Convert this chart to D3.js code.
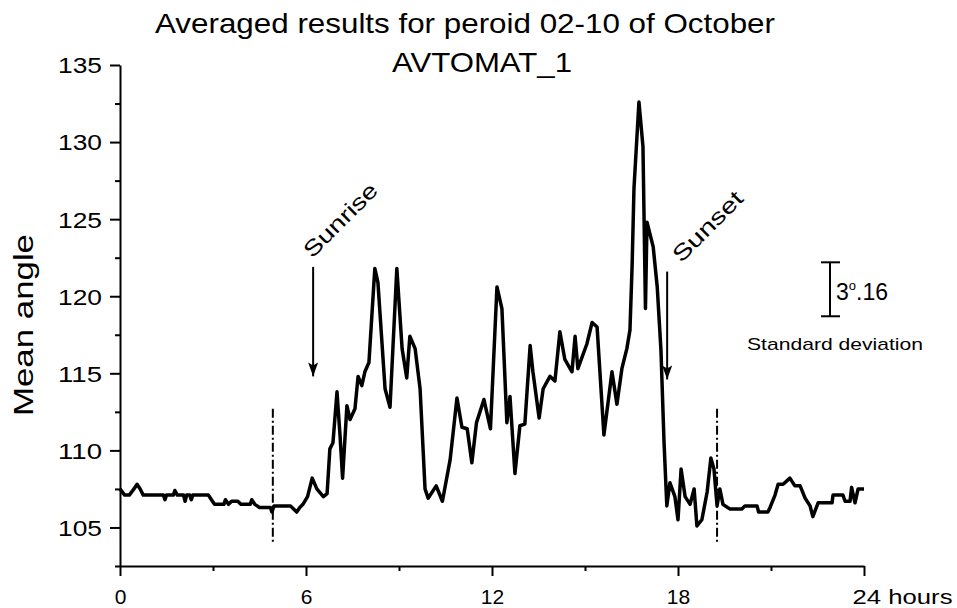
<!DOCTYPE html>
<html>
<head>
<meta charset="utf-8">
<script src="https://cdn.jsdelivr.net/npm/d3@7"></script>
<style>
  body { margin: 0; background: #fff; }
  svg { display: block; font-family: "Liberation Sans", Arial, sans-serif; }
</style>
</head>
<body>
<svg id="chart" width="957" height="608"></svg>
<script>
// hour of day -> mean angle
var hours = [
  0, 0.15, 0.3, 0.45, 0.55, 0.65, 0.75, 1.4, 1.45, 1.5,
  1.72, 1.77, 1.85, 2.05, 2.1, 2.15, 2.25, 2.3, 2.35, 2.85,
  2.95, 3.05, 3.35, 3.4, 3.5, 3.6, 3.8, 3.9, 4.2, 4.25,
  4.35, 4.5, 4.85, 4.9, 4.97, 5.5, 5.6, 5.7, 5.8, 5.9,
  6.05, 6.2, 6.35, 6.56, 6.68, 6.77, 6.87, 7.0, 7.1, 7.18,
  7.32, 7.42, 7.58, 7.68, 7.8, 7.9, 8.03, 8.22, 8.32, 8.55,
  8.71, 8.93, 9.1, 9.25, 9.35, 9.52, 9.68, 9.84, 9.94, 10.2,
  10.4, 10.65, 10.87, 11.03, 11.2, 11.35, 11.5, 11.74, 11.95, 12.16,
  12.32, 12.48, 12.58, 12.74, 12.9, 13.06, 13.23, 13.32, 13.52, 13.65,
  13.87, 14.03, 14.19, 14.35, 14.58, 14.68, 14.77, 15.06, 15.23, 15.39,
  15.61, 15.87, 16.03, 16.19, 16.35, 16.45, 16.52, 16.58, 16.74, 16.87,
  16.95, 17.0, 17.2, 17.33, 17.45, 17.55, 17.62, 17.64, 17.74, 17.9,
  18.0, 18.1, 18.23, 18.39, 18.52, 18.61, 18.77, 18.94, 19.06, 19.16,
  19.26, 19.35, 19.45, 19.6, 19.68, 20.06, 20.16, 20.55, 20.6, 20.9,
  20.97, 21.13, 21.23, 21.39, 21.61, 21.77, 21.94, 22.1, 22.26, 22.35,
  22.52, 22.97, 23.0, 23.32, 23.39, 23.55, 23.6, 23.71, 23.81, 24.0
];
var angles = [
  107.5, 107.1, 107.1, 107.5, 107.8, 107.5, 107.1, 107.1, 106.8, 107.1,
  107.1, 107.4, 107.1, 107.1, 106.7, 107.1, 107.1, 106.8, 107.1, 107.1,
  106.8, 106.5, 106.5, 106.8, 106.5, 106.7, 106.7, 106.5, 106.5, 106.8,
  106.5, 106.3, 106.3, 106.0, 106.4, 106.4, 106.2, 106.0, 106.3, 106.5,
  107.0, 108.2, 107.5, 107.0, 107.2, 110.1, 110.5, 113.8, 110.9, 108.2,
  112.9, 112.0, 112.7, 114.8, 114.2, 115.1, 115.7, 121.8, 120.9, 114.0,
  112.8, 121.8, 116.6, 114.7, 117.4, 116.6, 114.0, 107.5, 106.9, 107.7,
  106.7, 109.4, 113.4, 111.5, 111.4, 109.2, 111.8, 113.3, 111.4, 120.6,
  119.2, 111.8, 113.5, 108.5, 111.6, 111.7, 116.8, 115.1, 112.1, 114.0,
  114.8, 114.5, 117.7, 115.9, 115.1, 117.4, 115.3, 116.9, 118.3, 118.0,
  111.0, 115.1, 113.0, 115.3, 116.6, 117.8, 122.0, 127.0, 132.6, 129.7,
  119.2, 124.8, 123.2, 120.6, 116.5, 110.5, 107.3, 106.4, 107.9, 107.0,
  105.5, 108.8, 107.0, 106.5, 107.5, 105.1, 105.5, 107.3, 109.5, 108.8,
  106.4, 107.5, 106.5, 106.3, 106.2, 106.2, 106.4, 106.4, 106.0, 106.0,
  106.3, 107.1, 107.8, 107.8, 108.2, 107.7, 107.7, 106.9, 106.4, 105.7,
  106.6, 106.6, 107.1, 107.1, 106.7, 106.7, 107.6, 106.6, 107.5, 107.5
];

var yTicks = [105, 110, 115, 120, 125, 130, 135];
var yMinorTicks = [102.5, 107.5, 112.5, 117.5, 122.5, 127.5, 132.5];
var xTicks = [0, 6, 12, 18, 24];
var xMinorTicks = [3, 9, 15, 21];

// annotations (hour, angle range)
var sunrise = {label: 'Sunrise', hour: 6.23, from: 121.9, to: 114.8};
var sunset = {label: 'Sunset', hour: 17.65, from: 121.6, to: 114.6};
var markerHours = [4.93, 19.26];
var markerRange = [112.7, 104.0];
var sdRange = [122.2, 118.7];

var svg = d3.select('#chart');
var x = d3.scaleLinear().domain([0, 24]).range([120, 864]);
var y = d3.scaleLinear().domain([102.5, 135]).range([566, 65]);

var defs = svg.append('defs');
defs.append('marker').attr('id', 'arrow')
    .attr('viewBox', '0 0 10 14').attr('refX', 5).attr('refY', 14)
    .attr('markerWidth', 10).attr('markerHeight', 14)
    .attr('markerUnits', 'userSpaceOnUse').attr('orient', '0')
    .append('path').attr('d', 'M0,0 L5,14 L10,0 L5,3 Z').attr('fill', '#000');

// titles
svg.append('text').attr('x', 465).attr('y', 33).attr('text-anchor', 'middle')
    .attr('font-size', 28).attr('textLength', 620).attr('lengthAdjust', 'spacingAndGlyphs')
    .text('Averaged results for peroid 02-10 of October');
svg.append('text').attr('x', 482).attr('y', 72).attr('text-anchor', 'middle')
    .attr('font-size', 28).attr('textLength', 180).attr('lengthAdjust', 'spacingAndGlyphs')
    .text('AVTOMAT_1');

// axes
var gy = svg.append('g').attr('transform', 'translate(120,0)');
gy.call(d3.axisLeft(y).tickValues(yTicks).tickSize(10).tickPadding(8).tickSizeOuter(0));
gy.append('g').call(d3.axisLeft(y).tickValues(yMinorTicks).tickSize(5).tickFormat('').tickSizeOuter(0))
    .select('.domain').remove();
gy.selectAll('.tick text').attr('font-size', 22).attr('fill', '#000')
    .attr('textLength', 44).attr('lengthAdjust', 'spacingAndGlyphs').attr('dy', '0.36em');

var gx = svg.append('g').attr('transform', 'translate(0,566)');
gx.call(d3.axisBottom(x).tickValues(xTicks).tickSize(10).tickPadding(13).tickSizeOuter(0)
    .tickFormat(function (d) { return d; }));
gx.append('g').call(d3.axisBottom(x).tickValues(xMinorTicks).tickSize(5).tickFormat('').tickSizeOuter(0))
    .select('.domain').remove();
gx.selectAll('.tick text').attr('font-size', 21).attr('fill', '#000').attr('dy', '0.71em');
gx.selectAll('.tick').filter(function (d) { return d === 24; }).select('text')
    .attr('text-anchor', 'start').attr('dx', -12)
    .attr('textLength', 100).attr('lengthAdjust', 'spacingAndGlyphs')
    .text('24 hours');

svg.selectAll('.domain, .tick line').attr('stroke', '#000').attr('stroke-width', 2);
svg.selectAll('.tick text').attr('font-family', '"Liberation Sans", Arial, sans-serif');

svg.append('text').attr('transform', 'translate(33,325) rotate(-90)')
    .attr('text-anchor', 'middle').attr('font-size', 28)
    .attr('textLength', 182).attr('lengthAdjust', 'spacingAndGlyphs')
    .text('Mean angle');

// dash-dot markers
svg.selectAll('line.marker').data(markerHours).enter().append('line').classed('marker', true)
    .attr('x1', function (d) { return x(d); }).attr('x2', function (d) { return x(d); })
    .attr('y1', y(markerRange[0])).attr('y2', y(markerRange[1]))
    .attr('stroke', '#000').attr('stroke-width', 2).attr('stroke-dasharray', '9,3,2,3');

// data line
var line = d3.line()
    .x(function (d, i) { return x(hours[i]); })
    .y(function (d) { return y(d); });
svg.append('path').datum(angles).attr('d', line)
    .attr('fill', 'none').attr('stroke', '#000').attr('stroke-width', 3.5)
    .attr('stroke-linejoin', 'round');

// sunrise / sunset arrows
[sunrise, sunset].forEach(function (a, i) {
    var ax = x(a.hour);
    svg.append('line').attr('x1', ax).attr('x2', ax)
        .attr('y1', y(a.from)).attr('y2', y(a.to))
        .attr('stroke', '#000').attr('stroke-width', 2).attr('marker-end', 'url(#arrow)');
    svg.append('text').attr('transform', 'translate(' + (ax - 1 + i * 15) + ',' + (y(a.from) - 8) + ') rotate(-45)')
        .attr('font-size', 22).attr('textLength', i ? 90 : 95).attr('lengthAdjust', 'spacingAndGlyphs')
        .text(a.label);
});

// standard deviation bar
var sdX = 830;
var sd = svg.append('g');
sd.append('line').attr('x1', sdX).attr('x2', sdX).attr('y1', y(sdRange[0])).attr('y2', y(sdRange[1]));
sd.append('line').attr('x1', sdX - 9).attr('x2', sdX + 10).attr('y1', y(sdRange[0])).attr('y2', y(sdRange[0]));
sd.append('line').attr('x1', sdX - 9).attr('x2', sdX + 10).attr('y1', y(sdRange[1])).attr('y2', y(sdRange[1]));
sd.selectAll('line').attr('stroke', '#000').attr('stroke-width', 2);
var sdText = sd.append('text').attr('x', sdX + 6).attr('y', 300).attr('font-size', 23);
sdText.append('tspan').text('3');
sdText.append('tspan').attr('font-size', 13).attr('dy', -10).text('o');
sdText.append('tspan').attr('dy', 10).text('.16');
sd.append('text').attr('x', 747).attr('y', 350).attr('font-size', 17)
    .attr('textLength', 176).attr('lengthAdjust', 'spacingAndGlyphs')
    .text('Standard deviation');
</script>
</body>
</html>
